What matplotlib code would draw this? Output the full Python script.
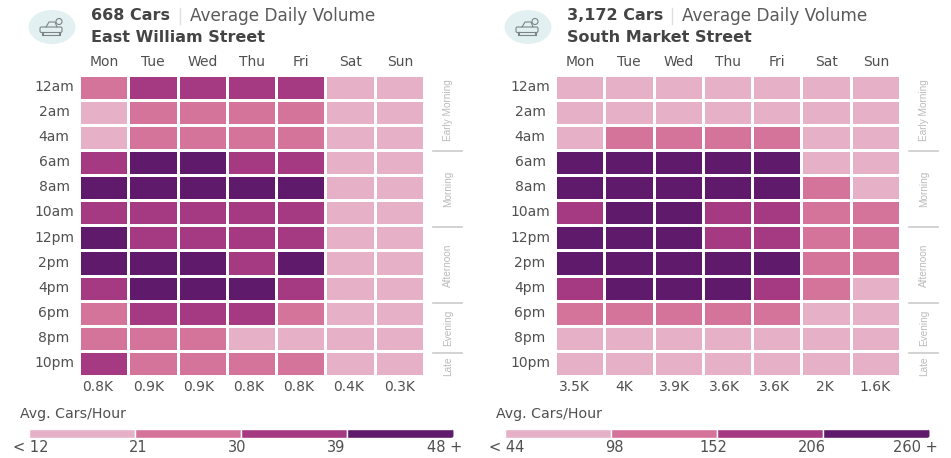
import matplotlib
matplotlib.use('Agg')
import matplotlib.pyplot as plt
import numpy as np
from matplotlib.colors import ListedColormap, BoundaryNorm
from matplotlib.patches import Ellipse, Circle, FancyBboxPatch

plt.rcParams['font.family'] = ['DejaVu Sans']

W, H = 951, 458

days = ["Mon", "Tue", "Wed", "Thu", "Fri", "Sat", "Sun"]
hours = ["12am", "2am", "4am", "6am", "8am", "10am",
         "12pm", "2pm", "4pm", "6pm", "8pm", "10pm"]
groups = ["Early Morning", "Morning", "Afternoon", "Evening", "Late"]
group_centers = [110, 189, 265, 328, 366]
group_breaks = [151, 227, 302.5, 352.5]

bin_colors = ["#e6b0c6", "#d5749a", "#a63a82", "#5f1a6b"]

east_name = "East William Street"
east_cars = "668 Cars"
east_totals = ["0.8K", "0.9K", "0.9K", "0.8K", "0.8K", "0.4K", "0.3K"]
east_legend = ["< 12", "21", "30", "39", "48 +"]
east_levels = [
    [1, 2, 2, 2, 2, 0, 0],
    [0, 1, 1, 1, 1, 0, 0],
    [0, 1, 1, 1, 1, 0, 0],
    [2, 3, 3, 2, 2, 0, 0],
    [3, 3, 3, 3, 3, 0, 0],
    [2, 2, 2, 2, 2, 0, 0],
    [3, 2, 2, 2, 2, 0, 0],
    [3, 3, 3, 2, 3, 0, 0],
    [2, 3, 3, 3, 2, 0, 0],
    [1, 2, 2, 2, 1, 0, 0],
    [1, 1, 1, 0, 0, 0, 0],
    [2, 1, 1, 1, 1, 0, 0],
]

south_name = "South Market Street"
south_cars = "3,172 Cars"
south_totals = ["3.5K", "4K", "3.9K", "3.6K", "3.6K", "2K", "1.6K"]
south_legend = ["< 44", "98", "152", "206", "260 +"]
south_levels = [
    [0, 0, 0, 0, 0, 0, 0],
    [0, 0, 0, 0, 0, 0, 0],
    [0, 1, 1, 1, 1, 0, 0],
    [3, 3, 3, 3, 3, 0, 0],
    [3, 3, 3, 3, 3, 1, 0],
    [2, 3, 3, 2, 2, 1, 1],
    [3, 3, 3, 2, 2, 1, 1],
    [3, 3, 3, 3, 3, 1, 1],
    [2, 3, 3, 3, 2, 1, 0],
    [1, 1, 1, 1, 1, 0, 0],
    [0, 0, 0, 0, 0, 0, 0],
    [0, 0, 0, 0, 0, 0, 0],
]

TEXT = "#505050"
cmap = ListedColormap(bin_colors)
norm = BoundaryNorm([-0.5, 0.5, 1.5, 2.5, 3.5], 4)


def px_axes(fig, x0, y0, x1, y1):
    # axes placed by pixel box, y counted from the top of the image
    return fig.add_axes([x0 / W, 1 - y1 / H, (x1 - x0) / W, (y1 - y0) / H])


def draw_icon(ov, dx):
    ov.add_patch(Ellipse((52 + dx, 27), 47, 34, fc="#e3f0f1", ec="none"))
    c = "#7d8488"
    ov.add_patch(FancyBboxPatch((40 + dx, 27), 22, 5.5, boxstyle="round,pad=0,rounding_size=1.5",
                                fc="none", ec=c, lw=0.8))
    ov.plot(np.array([46, 49, 55, 57]) + dx, [27, 22, 22, 27], color=c, lw=0.8)
    ov.plot(np.array([43, 59]) + dx, [34.5, 34.5], color=c, lw=0.8)
    ov.plot(np.array([43, 43]) + dx, [32.5, 35], color=c, lw=1.5)
    ov.plot(np.array([60, 60]) + dx, [32.5, 35], color=c, lw=1.5)
    ov.add_patch(Circle((59 + dx, 21.5), 3, fc="#e3f0f1", ec=c, lw=0.8, zorder=3))


def draw_panel(fig, ov, dx, name, cars, totals, levels, legend_labels, head_end):
    draw_icon(ov, dx)

    # header
    ov.text(91 + dx, 16, cars, fontsize=11.5, fontweight="bold", color="#444444", va="center")
    ov.plot([head_end + dx, head_end + dx], [8, 24], color="#dddddd", lw=1)
    ov.text(head_end + 10 + dx, 16, "Average Daily Volume", fontsize=12.2, color="#5a5a5a", va="center")
    ov.text(91 + dx, 37, name, fontsize=11.5, fontweight="bold", color="#444444", va="center")

    # heat grid
    ax = px_axes(fig, 79 + dx, 74.5, 424 + dx, 376)
    ax.pcolormesh(np.array(levels), cmap=cmap, norm=norm, edgecolors="white", linewidth=2)
    ax.set_xlim(0, len(days))
    ax.set_ylim(len(hours), 0)
    ax.axis("off")

    col_w = 49.3
    for i, d in enumerate(days):
        ov.text(104 + i * col_w + dx, 61.5, d, fontsize=10, color=TEXT, ha="center", va="center")
    for i, t in enumerate(totals):
        ov.text(98 + i * 50.2 + dx, 387, t, fontsize=10, color=TEXT, ha="center", va="center")
    for i, h in enumerate(hours):
        ov.text(54 + dx, 87 + i * 25.1, h, fontsize=10, color=TEXT, ha="center", va="center")

    # time of day groups
    for g, yc in zip(groups, group_centers):
        ov.text(448 + dx, yc, g, fontsize=7.2, color="#bbbbbb", rotation=90,
                ha="center", va="center", family="Liberation Sans")
    for yb in group_breaks:
        ov.plot([433 + dx, 462 + dx], [yb, yb], color="#cccccc", lw=1.2)

    # legend
    ov.text(20 + dx, 414, "Avg. Cars/Hour", fontsize=10.2, color=TEXT, va="center")
    lg = px_axes(fig, 28.5 + dx, 429, 453.5 + dx, 438)
    bars = lg.barh([0] * len(bin_colors), [1] * len(bin_colors), left=range(len(bin_colors)),
                   height=1, color=bin_colors, edgecolor="white", linewidth=1)
    lg.set_xlim(0, len(bin_colors))
    lg.set_ylim(-0.5, 0.5)
    lg.axis("off")
    # rounded ends on the legend bar
    clip = FancyBboxPatch((28.5 + dx, 429), 425, 9, boxstyle="round,pad=0,rounding_size=2.5",
                          transform=ov.transData)
    for b in bars:
        b.set_clip_path(clip)
    ov.text(13 + dx, 448, legend_labels[0], fontsize=10.5, color=TEXT, ha="left", va="center")
    for x, lab in zip([138, 237, 336], legend_labels[1:4]):
        ov.text(x + dx, 448, lab, fontsize=10.5, color=TEXT, ha="center", va="center")
    ov.text(462 + dx, 448, legend_labels[4], fontsize=10.5, color=TEXT, ha="right", va="center")


fig = plt.figure(figsize=(W / 100, H / 100), dpi=100, facecolor="white")
ov = fig.add_axes([0, 0, 1, 1], zorder=5)
ov.set_xlim(0, W)
ov.set_ylim(H, 0)
ov.axis("off")

draw_panel(fig, ov, 0, east_name, east_cars, east_totals, east_levels, east_legend, 180)
draw_panel(fig, ov, 476, south_name, south_cars, south_totals, south_levels, south_legend, 196)

fig.savefig("out.png", dpi=100)
plt.close(fig)
